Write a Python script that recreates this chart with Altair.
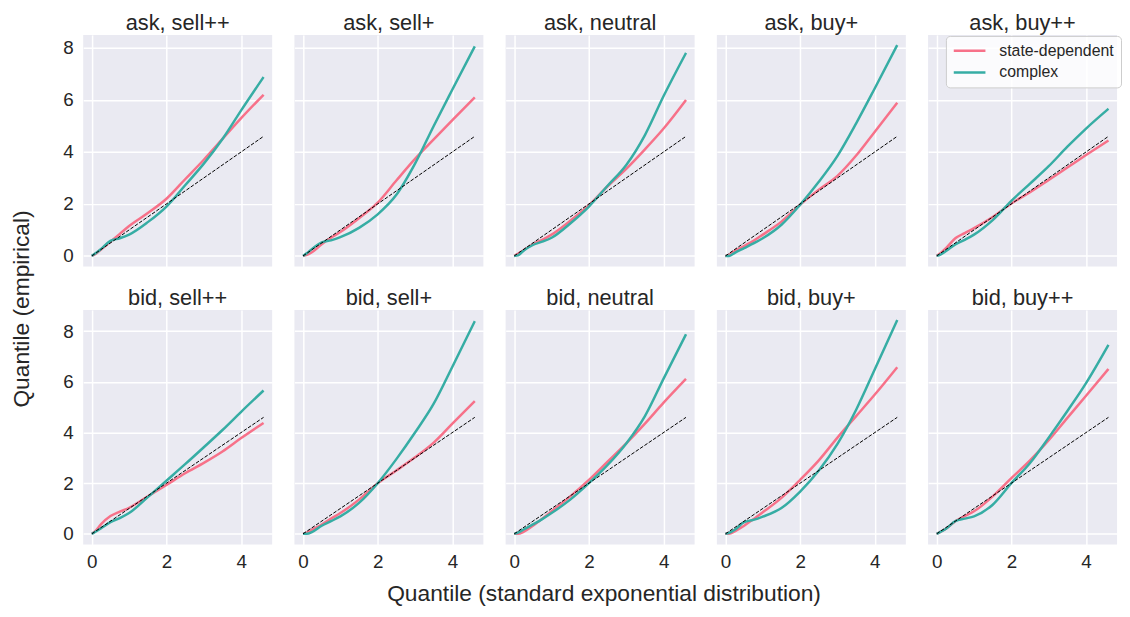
import altair as alt
import pandas as pd

# ---- data ----
x_q = [0, 0.1, 0.25, 0.5, 0.75, 1.0, 1.5, 2.0, 2.5, 3.0, 3.5, 4.0, 4.6]

panel_names = ["ask, sell++", "ask, sell+", "ask, neutral", "ask, buy+", "ask, buy++",
               "bid, sell++", "bid, sell+", "bid, neutral", "bid, buy+", "bid, buy++"]

state_dependent = [
    [0, 0.08, 0.25, 0.55, 0.85, 1.15, 1.65, 2.2, 2.95, 3.7, 4.5, 5.3, 6.2],
    [0, 0.04, 0.15, 0.45, 0.7, 0.92, 1.45, 2.05, 2.9, 3.73, 4.48, 5.22, 6.1],
    [0, 0.08, 0.22, 0.45, 0.62, 0.82, 1.35, 1.95, 2.68, 3.35, 4.1, 4.9, 6.0],
    [0, 0.04, 0.2, 0.38, 0.58, 0.82, 1.32, 1.97, 2.55, 3.08, 3.86, 4.78, 5.89],
    [0, 0.1, 0.3, 0.68, 0.88, 1.07, 1.5, 2.02, 2.45, 2.92, 3.4, 3.88, 4.44],
    [0, 0.12, 0.38, 0.7, 0.88, 1.03, 1.48, 1.93, 2.39, 2.8, 3.25, 3.78, 4.38],
    [0, 0.05, 0.17, 0.37, 0.6, 0.82, 1.35, 2.0, 2.5, 3.02, 3.6, 4.35, 5.24],
    [0, 0.0, 0.08, 0.32, 0.6, 0.89, 1.48, 2.13, 2.85, 3.57, 4.35, 5.18, 6.12],
    [0, 0.0, 0.1, 0.32, 0.58, 0.85, 1.42, 2.13, 2.9, 3.8, 4.65, 5.5, 6.58],
    [0, 0.08, 0.2, 0.5, 0.7, 0.89, 1.48, 2.2, 2.9, 3.7, 4.58, 5.45, 6.51],
]

complex_model = [
    [0, 0.1, 0.27, 0.58, 0.68, 0.82, 1.3, 1.9, 2.72, 3.55, 4.5, 5.6, 6.88],
    [0, 0.1, 0.28, 0.52, 0.6, 0.72, 1.08, 1.6, 2.35, 3.55, 5.0, 6.4, 8.06],
    [0, 0.02, 0.2, 0.42, 0.55, 0.7, 1.25, 1.9, 2.7, 3.5, 4.65, 6.15, 7.81],
    [0, 0.0, 0.12, 0.3, 0.48, 0.68, 1.2, 1.97, 2.85, 3.85, 5.1, 6.45, 8.11],
    [0, 0.05, 0.19, 0.44, 0.62, 0.82, 1.38, 2.12, 2.78, 3.45, 4.2, 4.9, 5.66],
    [0, 0.08, 0.22, 0.46, 0.62, 0.82, 1.45, 2.1, 2.75, 3.42, 4.1, 4.82, 5.66],
    [0, 0.0, 0.08, 0.32, 0.5, 0.69, 1.22, 2.0, 2.95, 4.0, 5.14, 6.6, 8.4],
    [0, 0.05, 0.17, 0.37, 0.58, 0.82, 1.35, 2.0, 2.72, 3.57, 4.65, 6.13, 7.88],
    [0, 0.04, 0.16, 0.46, 0.55, 0.68, 1.02, 1.67, 2.5, 3.55, 4.9, 6.5, 8.44],
    [0, 0.08, 0.2, 0.5, 0.6, 0.69, 1.15, 2.0, 2.8, 3.8, 4.85, 5.95, 7.46],
]

diag_x = [0, 4.6]
diag_y = [0, 4.6]

series_names = ["state-dependent", "complex"]
series_colors = ["#f77189", "#36ada4"]

x_ticks = [0, 2, 4]
y_ticks = [0, 2, 4, 6, 8]
x_domain = [-0.23, 4.83]
y_domains = [[-0.405, 8.5], [-0.42, 8.84]]
row_heights = [234, 237]

FONT = "Liberation Sans"
TXT = "#262626"

diag_df = pd.DataFrame({"x": diag_x, "y": diag_y})


def make_panel(i):
    row, col = divmod(i, 5)
    rows = []
    for name, vals in zip(series_names, [state_dependent[i], complex_model[i]]):
        for xv, yv in zip(x_q, vals):
            rows.append({"x": xv, "y": yv, "model": name})
    df = pd.DataFrame(rows)

    xscale = alt.Scale(domain=x_domain, nice=False, zero=False)
    yscale = alt.Scale(domain=y_domains[row], nice=False, zero=False)
    xenc = alt.X("x:Q", scale=xscale,
                 axis=alt.Axis(values=x_ticks, labels=(row == 1), title=None, format="d"))
    yenc = alt.Y("y:Q", scale=yscale,
                 axis=alt.Axis(values=y_ticks, labels=(col == 0), title=None, format="d"))

    if i == 4:
        legend = alt.Legend(orient="none", legendX=18, legendY=1, title=None,
                            symbolType="M-2.2,0H7.8", symbolSize=41, symbolStrokeWidth=2.5,
                            labelFont=FONT, labelFontSize=16, labelColor=TXT,
                            labelOffset=31, rowPadding=6, padding=7,
                            fillColor="rgba(255,255,255,0.8)", strokeColor="#cccccc",
                            cornerRadius=4)
    else:
        legend = None

    lines = alt.Chart(df).mark_line(strokeWidth=2.5, interpolate="monotone").encode(
        x=xenc, y=yenc,
        color=alt.Color("model:N", scale=alt.Scale(domain=series_names, range=series_colors),
                        legend=legend),
        order=alt.Order("x:Q"),
    )
    diag = alt.Chart(diag_df).mark_line(color="black", strokeDash=[3.7, 1.6], strokeWidth=1).encode(
        x=alt.X("x:Q", scale=xscale),
        y=alt.Y("y:Q", scale=yscale),
    )
    return alt.layer(lines, diag).properties(
        width=191, height=row_heights[row],
        title=alt.TitleParams(panel_names[i], fontSize=22, font=FONT, color=TXT,
                              fontWeight="normal", anchor="middle", offset=0),
    )


row1 = alt.hconcat(*[make_panel(i) for i in range(5)], spacing=22.5).resolve_scale(color="independent")
row2 = alt.hconcat(*[make_panel(i) for i in range(5, 10)], spacing=22.5).resolve_scale(color="independent")

inner = alt.vconcat(row1, row2, spacing=21).resolve_scale(color="independent").properties(
    title=alt.TitleParams("Quantile (standard exponential distribution)", orient="bottom",
                          anchor="middle", fontSize=23, font=FONT, color=TXT,
                          fontWeight="normal", offset=12, dx=12)
)

chart = alt.vconcat(inner).resolve_scale(color="independent").properties(
    title=alt.TitleParams("Quantile (empirical)", orient="left", anchor="middle",
                          fontSize=23, font=FONT, color=TXT, fontWeight="normal", offset=29),
    padding={"left": 3, "top": 1, "right": 0, "bottom": 0},
).configure_view(fill="#EAEAF2", stroke=None).configure_axis(
    domain=False, ticks=False, gridColor="white", gridWidth=1.5,
    labelFont=FONT, labelFontSize=19, labelColor=TXT,
).configure_axisX(labelPadding=8).configure_axisY(labelPadding=10).configure_concat(spacing=0)

chart.save("out.html", embed_options={"renderer": "svg", "actions": False})
